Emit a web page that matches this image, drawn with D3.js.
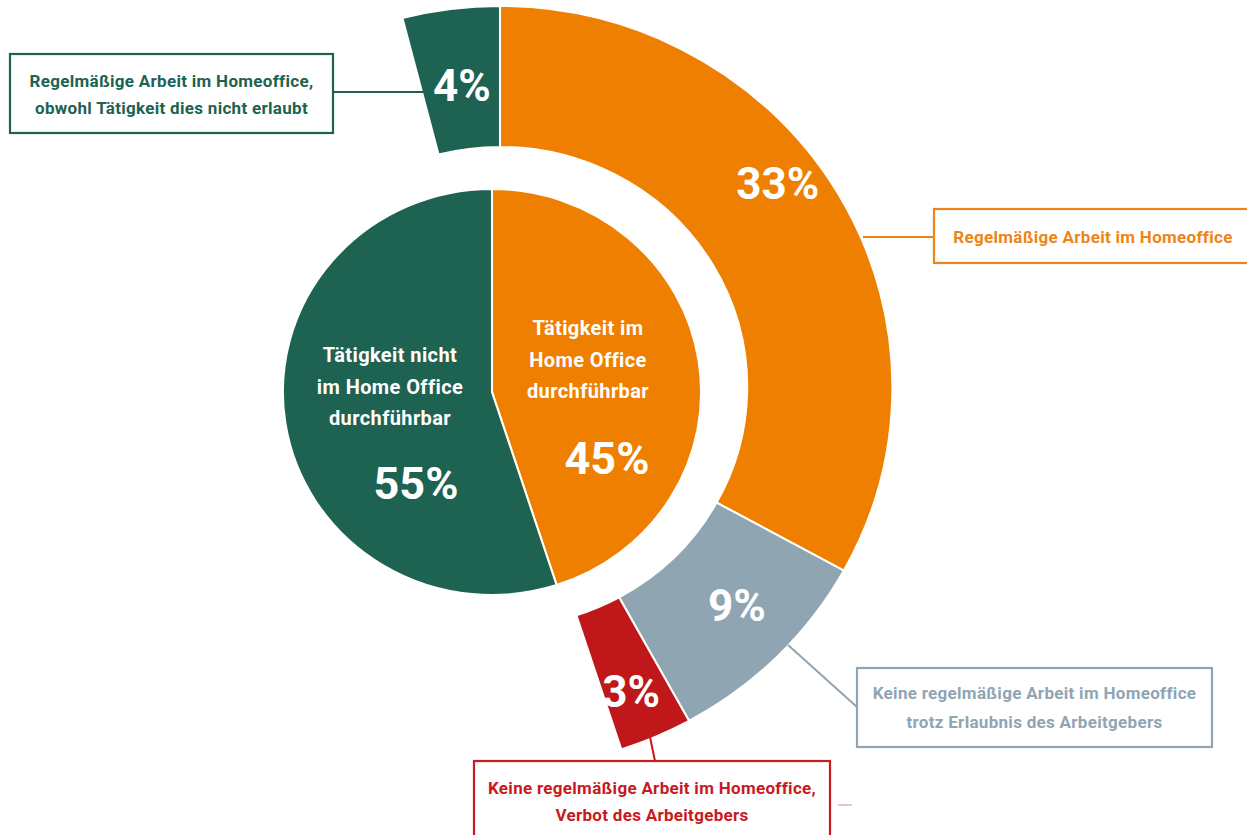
<!DOCTYPE html>
<html>
<head>
<meta charset="utf-8">
<script src="https://cdn.jsdelivr.net/npm/d3@7"></script>
<style>
  html, body { margin: 0; padding: 0; background: #ffffff; }
  svg { display: block; }
  text { font-family: "Roboto", "Liberation Sans", sans-serif; font-weight: bold; }
</style>
</head>
<body>
<script>
// ---------------- data ----------------
const innerCategories = ["Tätigkeit im Home Office durchführbar", "Tätigkeit nicht im Home Office durchführbar"];
const innerValues = [45, 55];
const innerLabelLines = [["Tätigkeit im", "Home Office", "durchführbar"], ["Tätigkeit nicht", "im Home Office", "durchführbar"]];

const outerCategories = [
  "Regelmäßige Arbeit im Homeoffice",
  "Keine regelmäßige Arbeit im Homeoffice trotz Erlaubnis des Arbeitgebers",
  "Keine regelmäßige Arbeit im Homeoffice, Verbot des Arbeitgebers",
  "Regelmäßige Arbeit im Homeoffice, obwohl Tätigkeit dies nicht erlaubt"
];
const outerValues = [33, 9, 3, 4];
const outerLabelLines = [
  ["Regelmäßige Arbeit im Homeoffice"],
  ["Keine regelmäßige Arbeit im Homeoffice", "trotz Erlaubnis des Arbeitgebers"],
  ["Keine regelmäßige Arbeit im Homeoffice,", "Verbot des Arbeitgebers"],
  ["Regelmäßige Arbeit im Homeoffice,", "obwohl Tätigkeit dies nicht erlaubt"]
];

// ---------------- styles / layout ----------------
const colInner = ["#EF7F00", "#1E6252"];
const colOuter = ["#EF7F00", "#8FA5B2", "#C0171B", "#1E6252"];
const colText  = ["#EE8418", "#90A5B3", "#C8191E", "#1E6252"];
const SX = 1.03; // horizontal stretch of the original artwork

const W = 1247, H = 835;
const svg = d3.select("body").append("svg").attr("width", W).attr("height", H);
svg.append("rect").attr("width", W).attr("height", H).attr("fill", "#ffffff");

// inner pie
const inner = { cx: 492, cy: 392, r: 203 };
const gInShape = svg.append("g").attr("transform", `translate(${inner.cx},${inner.cy}) scale(${SX},1)`);
const gIn = svg.append("g").attr("transform", `translate(${inner.cx},${inner.cy})`);
const pieIn = d3.pie().sort(null).value(d => d.v);
const inData = pieIn(innerValues.map((v, i) => ({ v, i })));
const arcIn = d3.arc().innerRadius(0).outerRadius(inner.r);
gInShape.selectAll("path").data(inData).join("path")
  .attr("d", arcIn).attr("fill", d => colInner[d.data.i])
  .attr("stroke", "#fff").attr("stroke-width", 2);

const inLab = [
  { x: 96, y0: -64, px: 115, pct: 66 },
  { x: -102, y0: -37, px: -76, pct: 91 }
];
inData.forEach((d, k) => {
  const L = inLab[k];
  const t = gIn.append("text").attr("text-anchor", "middle").attr("fill", "#fff")
    .attr("font-size", 20).attr("letter-spacing", 0.4);
  innerLabelLines[k].forEach((ln, j) => {
    t.append("tspan").attr("x", L.x).attr("y", L.y0 + j * 31.5).attr("dy", "0.35em").text(ln);
  });
  gIn.append("text").attr("x", L.px).attr("y", L.pct).attr("dy", "0.36em")
    .attr("text-anchor", "middle").attr("fill", "#fff").attr("font-size", 45)
    .text(innerValues[k] + "%");
});

// outer ring
const outer = { cx: 500, cy: 387, r0: 240, r1: 381 };
const gOutShape = svg.append("g").attr("transform", `translate(${outer.cx},${outer.cy}) scale(${SX},1)`);
const gOut = svg.append("g").attr("transform", `translate(${outer.cx},${outer.cy})`);
const gapValue = innerValues[1] - outerValues[3];
const ringItems = [
  { v: outerValues[0], i: 0 },
  { v: outerValues[1], i: 1 },
  { v: outerValues[2], i: 2 },
  { v: gapValue, i: -1 },
  { v: outerValues[3], i: 3 }
];
const pieOut = d3.pie().sort(null).value(d => d.v);
const outData = pieOut(ringItems).filter(d => d.data.i >= 0);
const arcOut = d3.arc().innerRadius(outer.r0).outerRadius(outer.r1);
gOutShape.selectAll("path").data(outData).join("path")
  .attr("d", arcOut).attr("fill", d => colOuter[d.data.i])
  .attr("stroke", "#fff").attr("stroke-width", 2);

// pct labels on ring: angle (deg) and radius
const ringLab = [
  { a: 52.9, r: 338 },
  { a: 133.5, r: 317 },
  { a: 157.3, r: 330 },
  { a: -7.0, r: 304 }
];
outData.forEach(d => {
  const L = ringLab[d.data.i];
  const rad = L.a * Math.PI / 180;
  gOut.append("text")
    .attr("x", SX * L.r * Math.sin(rad)).attr("y", -L.r * Math.cos(rad)).attr("dy", "0.36em")
    .attr("text-anchor", "middle").attr("fill", "#fff").attr("font-size", 44)
    .text(outerValues[d.data.i] + "%");
});

// callout boxes and leader lines
const boxes = [
  { x: 934, y: 209, w: 318, h: 54, line: [[863, 237], [934, 237]] },
  { x: 857, y: 668, w: 355, h: 79, line: [[788, 645], [857, 707]] },
  { x: 474, y: 761, w: 356, h: 90, line: [[650, 737], [655, 761]] },
  { x: 10, y: 54, w: 323, h: 79, line: [[333, 92], [427, 92]] }
];
const textY = [[237], [693, 722], [788, 815], [81, 108]];
boxes.forEach((b, i) => {
  svg.append("line")
    .attr("x1", b.line[0][0]).attr("y1", b.line[0][1])
    .attr("x2", b.line[1][0]).attr("y2", b.line[1][1])
    .attr("stroke", colText[i]).attr("stroke-width", 2);
  svg.append("rect").attr("x", b.x).attr("y", b.y).attr("width", b.w).attr("height", b.h)
    .attr("fill", "#fff").attr("stroke", colText[i]).attr("stroke-width", 2.2);
  const t = svg.append("text").attr("text-anchor", "middle").attr("fill", colText[i])
    .attr("font-size", 17).attr("letter-spacing", 0.3);
  outerLabelLines[i].forEach((ln, j) => {
    t.append("tspan").attr("x", b.x + b.w / 2).attr("y", textY[i][j]).attr("dy", "0.35em").text(ln);
  });
});

// small stray dash right of the red box (present in the original artwork)
svg.append("line").attr("x1", 838).attr("y1", 805).attr("x2", 852).attr("y2", 805)
  .attr("stroke", "#E3B0B0").attr("stroke-width", 1.5);
</script>
</body>
</html>
